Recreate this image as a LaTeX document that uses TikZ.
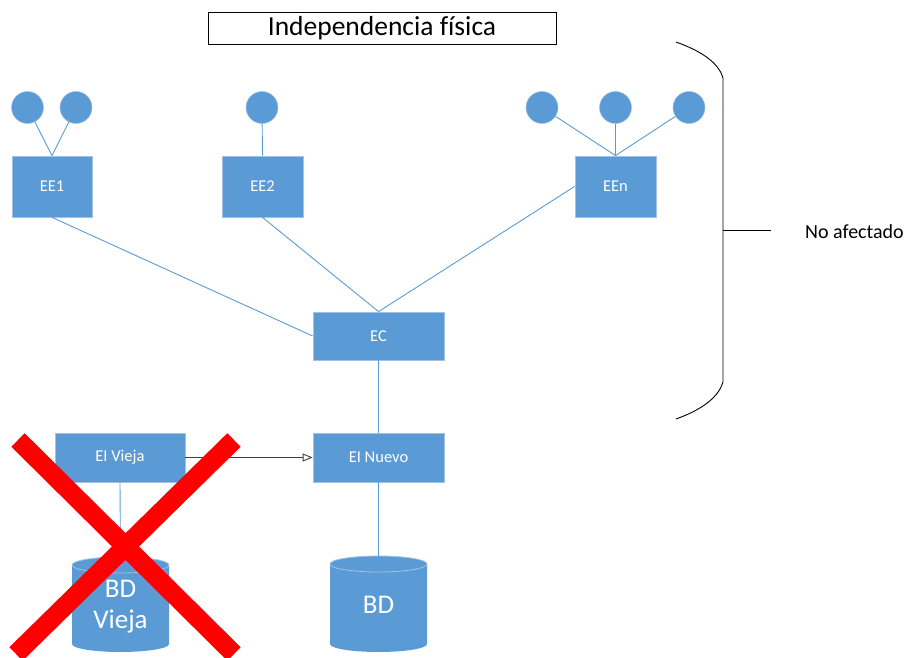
\documentclass[tikz,border=0pt]{standalone}
\usepackage{fontspec}
\setmainfont[Ligatures=NoCommon]{Carlito}
\usetikzlibrary{arrows.meta}
\definecolor{boxblue}{HTML}{5B9BD5}
\definecolor{boxrim}{HTML}{A3C1E4}
\definecolor{arrowgray}{HTML}{404040}
\definecolor{crossred}{HTML}{FF0000}
\tikzset{
  entity/.style={rectangle, fill=boxblue, draw=boxrim, line width=0.8pt,
    inner sep=0pt, text=white, font=\fontsize{16.5}{19}\selectfont},
  user/.style={circle, fill=boxblue, draw=boxrim, line width=0.5pt,
    minimum size=32pt, inner sep=0pt},
  link/.style={draw=boxblue, line width=0.9pt},
  dbtext/.style={text=white, align=center, font=\fontsize{27}{31}\selectfont},
  cross/.style={draw=crossred, line width=19pt, line cap=butt},
}
\newcommand{\dbcylinder}[4]{% cx, top-centre y, bottom-centre y, x radius
  \fill[boxblue] (#1-#4,#2) -- (#1-#4,#3)
    arc[start angle=180, end angle=360, x radius=#4pt, y radius=8pt]
    -- (#1+#4,#2)
    arc[start angle=0, end angle=180, x radius=#4pt, y radius=8pt] -- cycle;
  \draw[boxrim, line width=0.8pt] (#1,#2) ellipse[x radius=#4pt, y radius=8pt];
}
\begin{document}
\begin{tikzpicture}[x=1pt, y=-1pt]
\useasboundingbox (0,0) rectangle (911,658);

% title
\node[draw=black, line width=0.8pt, minimum width=348pt, minimum height=32pt,
  inner sep=0pt, font=\fontsize{27.5}{31}\selectfont] (title) at (382,28)
  {Independencia física};

% external schemas
\node[entity, minimum width=80pt, minimum height=61pt] (ee1) at (52,186.5) {EE1};
\node[entity, minimum width=81pt, minimum height=61pt] (ee2) at (262.5,186.5) {EE2};
\node[entity, minimum width=81pt, minimum height=61pt] (een) at (615.5,186.5) {EEn};

% users
\node[user] (u1) at (27.5,107.5) {};
\node[user] (u2) at (76,107.5) {};
\node[user] (u3) at (262,107.5) {};
\node[user] (u4) at (542,107.5) {};
\node[user] (u5) at (615.5,107.5) {};
\node[user] (u6) at (689,107.5) {};

% conceptual and internal schemas
\node[entity, minimum width=131pt, minimum height=48pt] (ec) at (378.5,336) {EC};
\node[entity, minimum width=130pt, minimum height=49pt] (eivieja) at (120,457.5) {EI Vieja};
\node[entity, minimum width=131pt, minimum height=49pt] (einuevo) at (378.5,457.5) {EI Nuevo};

% databases
\dbcylinder{120.5}{565}{644}{48.5}
\coordinate (bdviejatop) at (120.5,557);
\node[dbtext] (bdvieja) at (120.5,607) {BD\\Vieja};
\dbcylinder{378.5}{564}{644}{48.5}
\coordinate (bdtop) at (378.5,556);
\node[dbtext] (bd) at (378.5,605) {BD};

% connectors
\path[link] (u1) -- (ee1.north);
\path[link] (u2) -- (ee1.north);
\path[link] (u3) -- (ee2.north);
\path[link] (u4) -- (een.north);
\path[link] (u5) -- (een.north);
\path[link] (u6) -- (een.north);
\path[link] (ee1.south) -- (ec.west);
\path[link] (ee2.south) -- (ec.north);
\path[link] (een.west) -- (ec.north);
\path[link] (ec.south) -- (einuevo.north);
\path[link] (eivieja.south) -- (bdviejatop);
\path[link] (einuevo.south) -- (bdtop);
\draw[arrowgray, line width=0.9pt,
  -{Triangle[open, length=10pt, width=8pt]}] (eivieja.east) -- (einuevo.west);

% brace and label
\draw[black, line width=0.9pt] (676,42) .. controls (704,52) and (719,64) .. (723,78)
  -- (723,382) .. controls (719,396) and (704,409) .. (676,419);
\coordinate (bracetip) at (723,230);
\node[anchor=west, inner sep=0pt, font=\fontsize{20}{23}\selectfont] (noaf)
  at (805,232) {No afectado};
\draw[black, line width=0.9pt] (bracetip) -- ++(48,0);

% crossed-out old internal schema
\draw[cross] (18,440) -- (234,654);
\draw[cross] (234,440) -- (16,654);
\end{tikzpicture}
\end{document}
